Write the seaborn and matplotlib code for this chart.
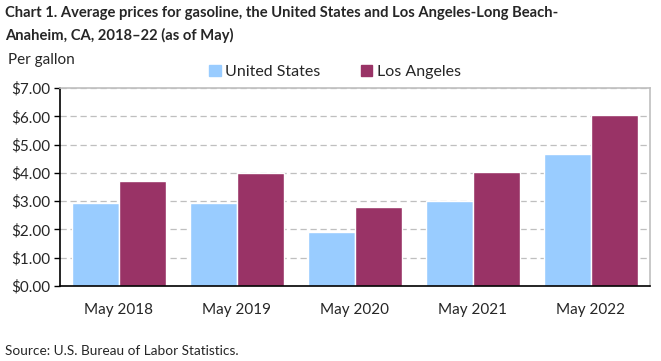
import pandas as pd
import numpy as np
import matplotlib.pyplot as plt
import seaborn as sns
from matplotlib.ticker import FuncFormatter, MultipleLocator

periods = ['May 2018', 'May 2019', 'May 2020', 'May 2021', 'May 2022']
us_prices = [2.94, 2.94, 1.92, 3.01, 4.67]
la_prices = [3.72, 4.00, 2.80, 4.04, 6.06]
series = ['United States', 'Los Angeles']

df = pd.DataFrame({
    'period': periods * 2,
    'area': [series[0]] * len(periods) + [series[1]] * len(periods),
    'price': us_prices + la_prices,
})

sns.set_style('white')
plt.rcParams['font.family'] = ['Lato', 'DejaVu Sans']

fig = plt.figure(figsize=(6.61, 3.61), dpi=100)
ax = fig.add_axes([60 / 661, 1 - 286 / 361, 590 / 661, 198 / 361])

sns.barplot(data=df, x='period', y='price', hue='area', order=periods,
            hue_order=series, palette=['#99CCFF', '#993366'],
            width=0.8, saturation=1, ax=ax, legend=False)

ax.set_ylim(0, 7)
ax.yaxis.set_major_locator(MultipleLocator(1))
ax.yaxis.set_major_formatter(FuncFormatter(lambda v, p: f'${v:.2f}'))
ax.set_xlabel('')
ax.set_ylabel('')
ax.set_axisbelow(True)
ax.grid(axis='y', color='#BFBFBF', linestyle=(0, (5, 3)), linewidth=0.9)
for s in ['top', 'right']:
    ax.spines[s].set_color('#BFBFBF')
    ax.spines[s].set_linewidth(1.2)
for s in ['left', 'bottom']:
    ax.spines[s].set_color('black')
    ax.spines[s].set_linewidth(1.2)
ax.tick_params(axis='y', left=True, length=4, width=1, color='black',
               labelsize=11, pad=3)
ax.tick_params(axis='x', bottom=False, labelsize=11, pad=9)

handles = [plt.Rectangle((0, 0), 1, 1, color=c) for c in ['#99CCFF', '#993366']]
fig.legend(handles, series, loc='center', bbox_to_anchor=(335 / 661, 1 - 72 / 361),
           ncol=2, frameon=False, fontsize=11.5, handlelength=0.7, handleheight=0.7,
           handletextpad=0.3, columnspacing=2.5)

fig.text(5 / 661, 1 - 13 / 361,
         'Chart 1. Average prices for gasoline, the United States and Los Angeles-Long Beach-',
         ha='left', va='center', fontsize=10.6, fontweight='bold')
fig.text(5 / 661, 1 - 35 / 361, 'Anaheim, CA, 2018\u201322 (as of May)',
         ha='left', va='center', fontsize=10.6, fontweight='bold')
fig.text(8 / 661, 1 - 60 / 361, 'Per gallon', ha='left', va='center', fontsize=11)
fig.text(5 / 661, 1 - 351 / 361, 'Source: U.S. Bureau of Labor Statistics.',
         ha='left', va='center', fontsize=9.8)

fig.savefig('out.png', dpi=100)
